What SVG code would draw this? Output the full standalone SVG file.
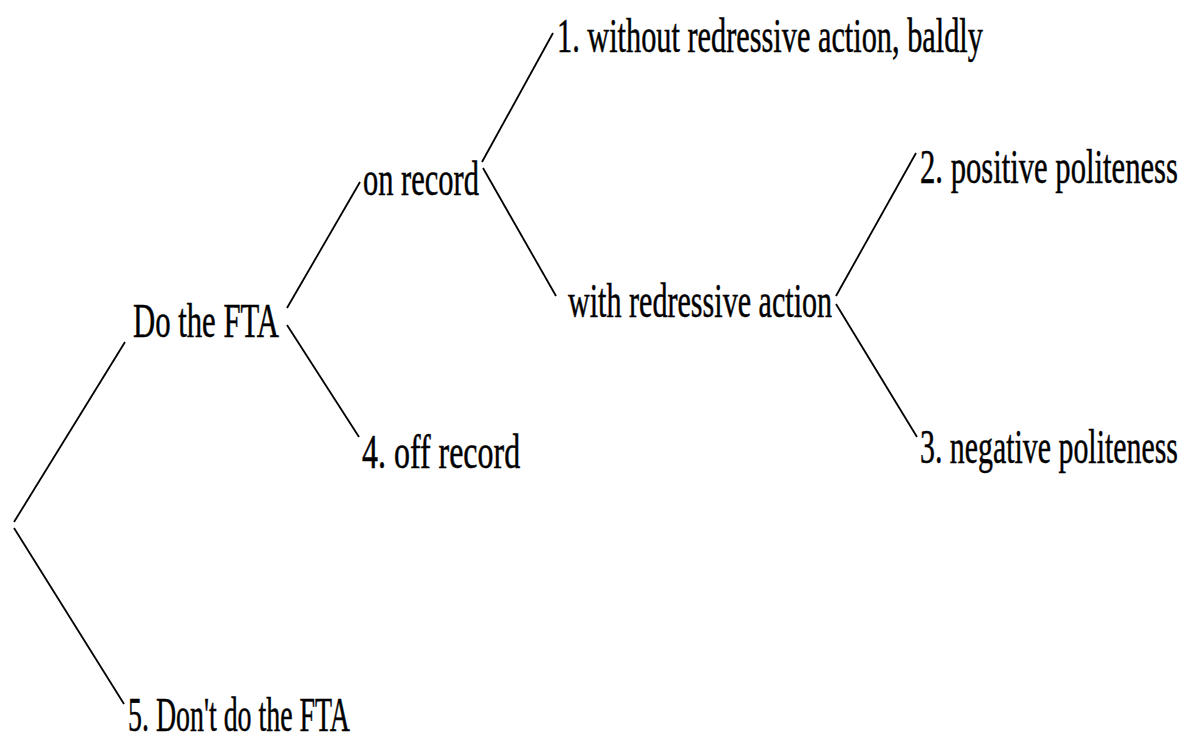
<svg xmlns="http://www.w3.org/2000/svg" width="1187" height="742" viewBox="0 0 1187 742">
<style>
.t{font-family:"Liberation Serif","Times New Roman",serif;font-size:49px;fill:#000;stroke:#000;stroke-width:0.5}
.c line{stroke:#000;stroke-width:1.8;fill:none}
</style>
<rect width="1187" height="742" fill="#fff"/>
<g class="c" id="connectors">
<line x1="14" y1="522" x2="125" y2="342"/>
<line x1="14" y1="528" x2="124" y2="704"/>
<line x1="287" y1="308" x2="360" y2="182"/>
<line x1="287" y1="325" x2="359" y2="437"/>
<line x1="482" y1="162" x2="553" y2="33"/>
<line x1="483" y1="168" x2="556" y2="296"/>
<line x1="836" y1="296" x2="916" y2="153"/>
<line x1="836" y1="304" x2="917" y2="437"/>
</g>
<g id="n_do" transform="translate(133,337) scale(0.62,1)"><text class="t" x="0" y="0" textLength="235.5" lengthAdjust="spacingAndGlyphs">Do the FTA</text></g>
<g id="n_on" transform="translate(363,195) scale(0.62,1)"><text class="t" x="0" y="0" textLength="187" lengthAdjust="spacingAndGlyphs">on record</text></g>
<g id="n_off" transform="translate(362,468) scale(0.62,1)"><text class="t" x="0" y="0" textLength="255" lengthAdjust="spacingAndGlyphs">4. off record</text></g>
<g id="n_dont" transform="translate(128,731) scale(0.62,1)"><text class="t" x="0" y="0" textLength="358" lengthAdjust="spacingAndGlyphs">5. Don't do the FTA</text></g>
<g id="n_1" transform="translate(557,52) scale(0.62,1)"><text class="t" x="0" y="0" textLength="687" lengthAdjust="spacingAndGlyphs">1. without redressive action, baldly</text></g>
<g id="n_with" transform="translate(568,317) scale(0.62,1)"><text class="t" x="0" y="0" textLength="426" lengthAdjust="spacingAndGlyphs">with redressive action</text></g>
<g id="n_2" transform="translate(920,183) scale(0.62,1)"><text class="t" x="0" y="0" textLength="416" lengthAdjust="spacingAndGlyphs">2. positive politeness</text></g>
<g id="n_3" transform="translate(920,463) scale(0.62,1)"><text class="t" x="0" y="0" textLength="416" lengthAdjust="spacingAndGlyphs">3. negative politeness</text></g>
</svg>
